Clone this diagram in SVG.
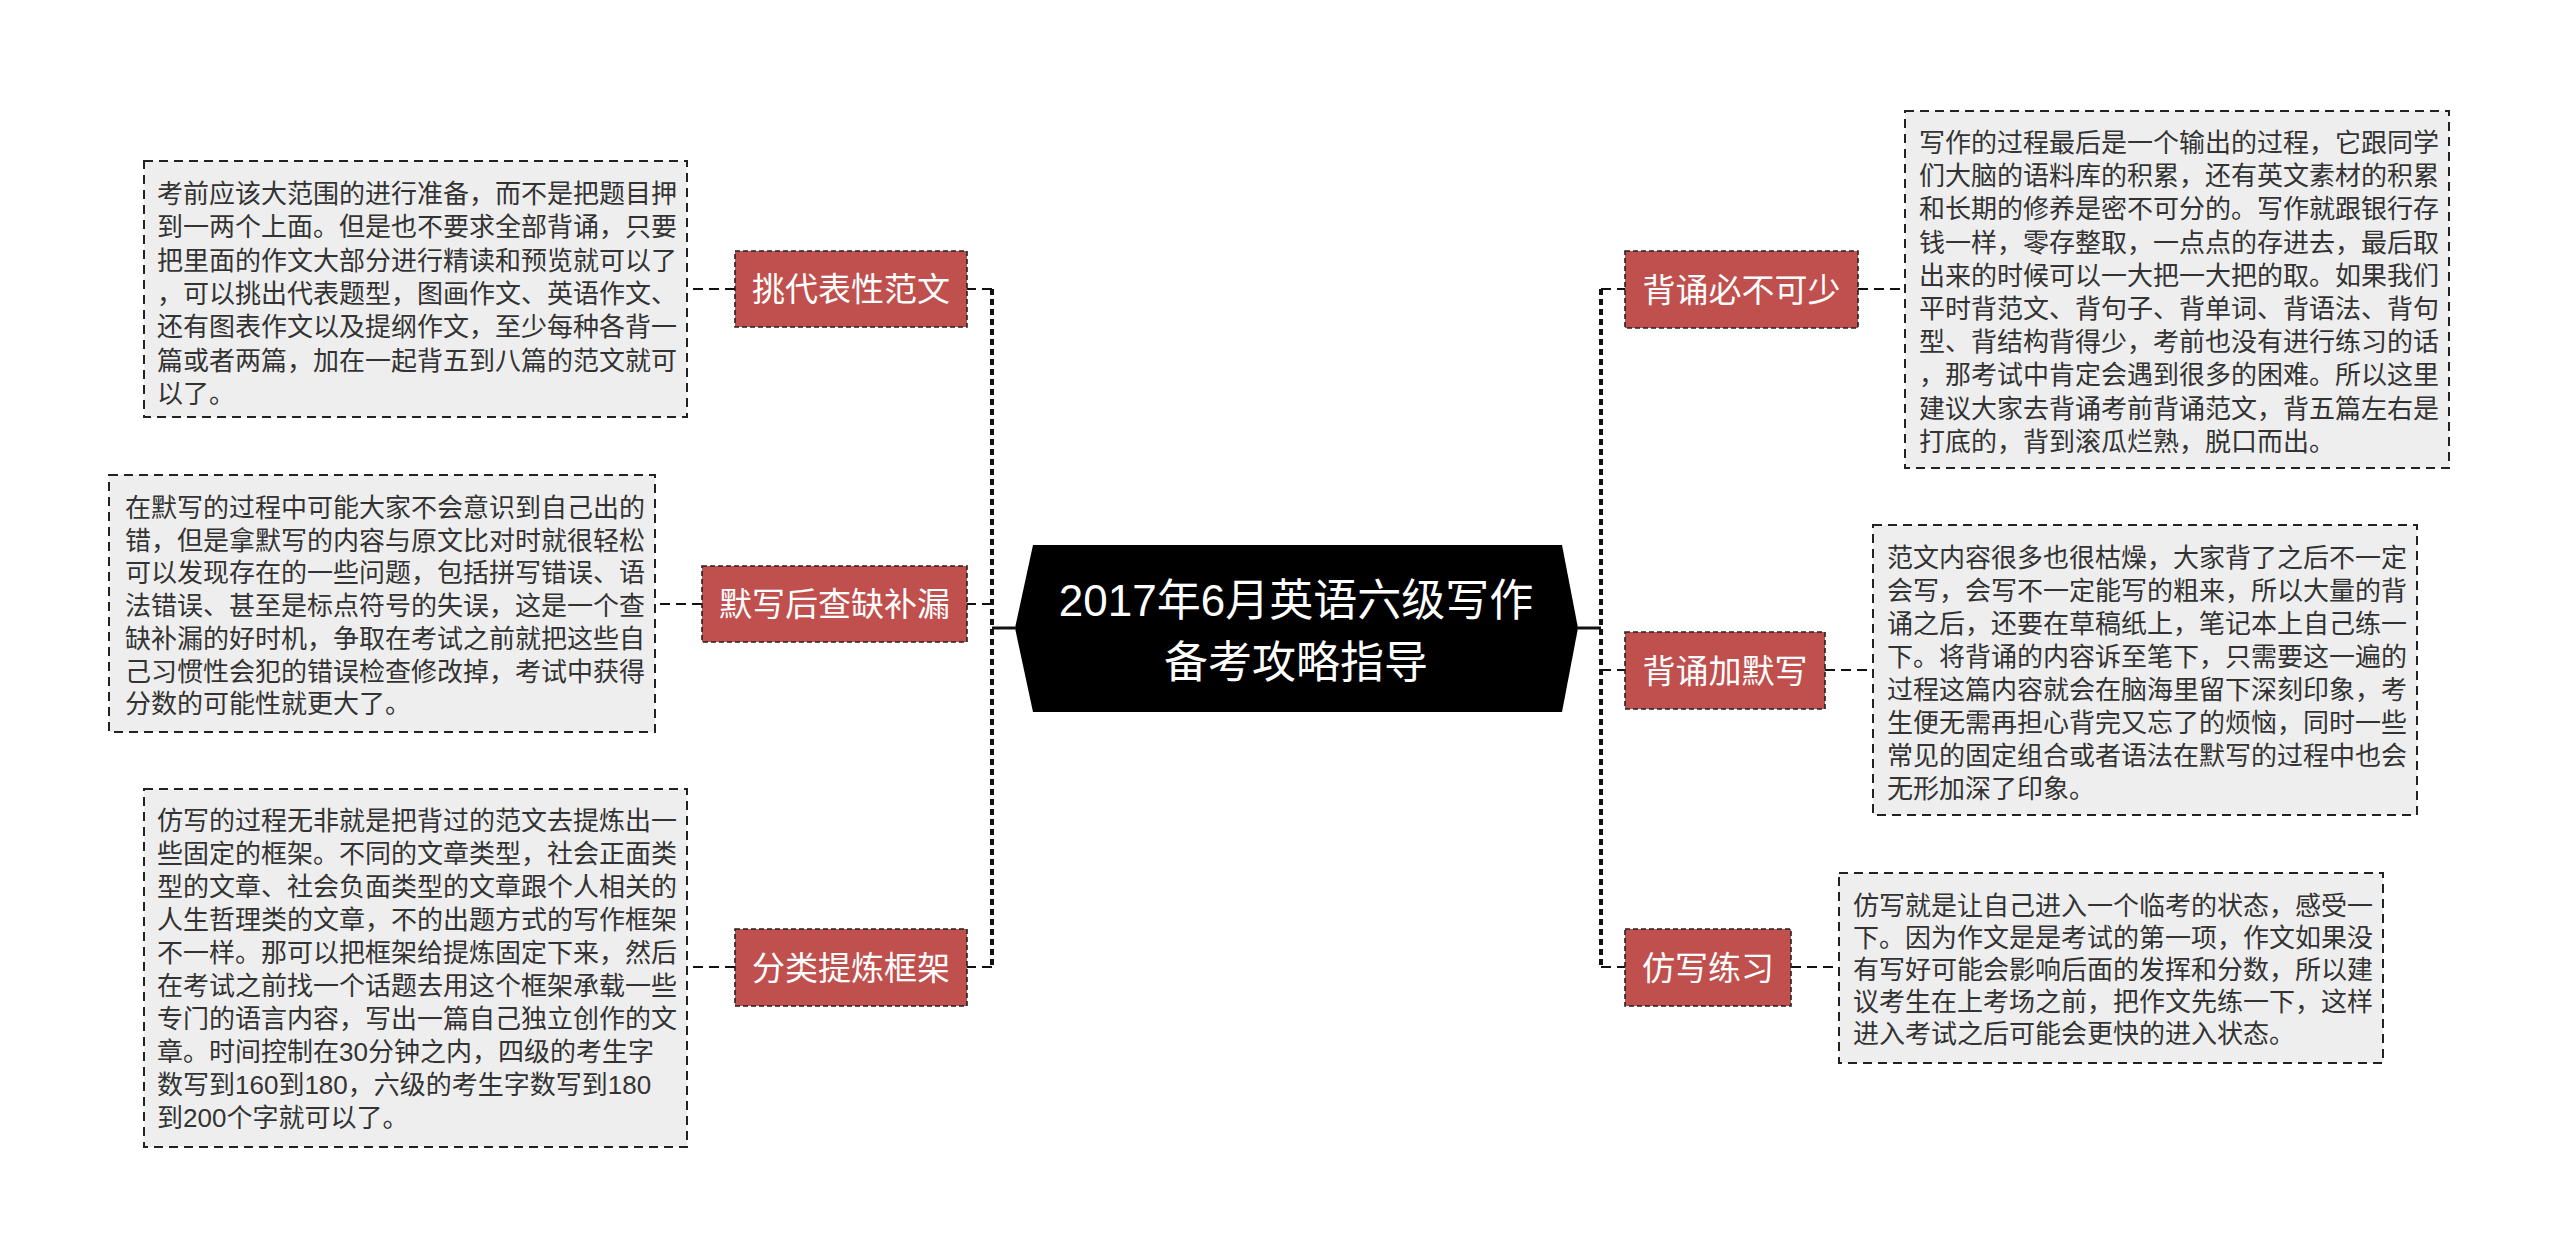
<svg xmlns="http://www.w3.org/2000/svg" width="2560" height="1258" viewBox="0 0 2560 1258">
<style>
.bg{fill:#ffffff}
.topic{fill:#C0504D;stroke:#222;stroke-width:1.6;stroke-dasharray:5,3}
.tlabel{font-family:"Liberation Sans","Noto Sans CJK SC",sans-serif;font-size:33px;fill:#ffffff;text-anchor:middle}
.note{fill:#EEEEEE;stroke:#222;stroke-width:2;stroke-dasharray:9,6}
.ntext{font-family:"Liberation Sans","Noto Sans CJK SC",sans-serif;font-size:26px;fill:#333333}
.ctext{font-family:"Liberation Sans","Noto Sans CJK SC",sans-serif;font-size:44px;fill:#ffffff;text-anchor:middle}
.trunk{fill:none;stroke:#111;stroke-width:4;stroke-dasharray:6,4}
.stub{fill:none;stroke:#111;stroke-width:2;stroke-dasharray:10,6}
.solid{fill:none;stroke:#111;stroke-width:3}
</style>
<rect class="bg" x="0" y="0" width="2560" height="1258"/>

<g id="connectors">
  <line class="solid" x1="992" y1="628" x2="1015" y2="628"/>
  <line class="solid" x1="1578" y1="628" x2="1601" y2="628"/>
  <line class="trunk" x1="992" y1="289" x2="992" y2="967"/>
  <line class="trunk" x1="1601" y1="289" x2="1601" y2="967"/>
  <line class="stub" x1="992" y1="289" x2="967" y2="289"/>
  <line class="stub" x1="992" y1="604" x2="967" y2="604"/>
  <line class="stub" x1="992" y1="967" x2="967" y2="967"/>
  <line class="stub" x1="1601" y1="289" x2="1625" y2="289"/>
  <line class="stub" x1="1601" y1="670" x2="1625" y2="670"/>
  <line class="stub" x1="1601" y1="967" x2="1625" y2="967"/>
  <line class="stub" x1="735" y1="289" x2="687" y2="289"/>
  <line class="stub" x1="702" y1="604" x2="655" y2="604"/>
  <line class="stub" x1="735" y1="967" x2="687" y2="967"/>
  <line class="stub" x1="1858" y1="289" x2="1905" y2="289"/>
  <line class="stub" x1="1825" y1="670" x2="1873" y2="670"/>
  <line class="stub" x1="1791" y1="967" x2="1839" y2="967"/>
</g>

<g id="center">
  <path d="M1033,545 L1562,545 L1578,628 L1562,712 L1033,712 L1015,628 Z" fill="#000000"/>
  <text class="ctext"><tspan x="1296" y="616">2017年6月英语六级写作</tspan><tspan x="1296" y="678">备考攻略指导</tspan></text>
</g>

<g id="topic-l1">
  <rect class="topic" x="735" y="251" width="232" height="76"/>
  <text class="tlabel" x="851" y="301">挑代表性范文</text>
</g>
<g id="topic-l2">
  <rect class="topic" x="702" y="566" width="265" height="76"/>
  <text class="tlabel" x="834.5" y="616">默写后查缺补漏</text>
</g>
<g id="topic-l3">
  <rect class="topic" x="735" y="929" width="232" height="77"/>
  <text class="tlabel" x="851" y="980">分类提炼框架</text>
</g>
<g id="topic-r1">
  <rect class="topic" x="1625" y="251" width="233" height="77"/>
  <text class="tlabel" x="1741.5" y="302">背诵必不可少</text>
</g>
<g id="topic-r2">
  <rect class="topic" x="1625" y="632" width="200" height="77"/>
  <text class="tlabel" x="1725" y="683">背诵加默写</text>
</g>
<g id="topic-r3">
  <rect class="topic" x="1625" y="929" width="166" height="77"/>
  <text class="tlabel" x="1708" y="980">仿写练习</text>
</g>

<g id="note-l1">
  <rect class="note" x="144" y="161" width="543" height="256"/>
  <text class="ntext">
    <tspan x="157" y="203">考前应该大范围的进行准备，而不是把题目押</tspan>
    <tspan x="157" y="236.3">到一两个上面。但是也不要求全部背诵，只要</tspan>
    <tspan x="157" y="269.6">把里面的作文大部分进行精读和预览就可以了</tspan>
    <tspan x="157" y="302.9">，可以挑出代表题型，图画作文、英语作文、</tspan>
    <tspan x="157" y="336.2">还有图表作文以及提纲作文，至少每种各背一</tspan>
    <tspan x="157" y="369.5">篇或者两篇，加在一起背五到八篇的范文就可</tspan>
    <tspan x="157" y="402.8">以了。</tspan>
  </text>
</g>
<g id="note-l2">
  <rect class="note" x="109" y="475" width="546" height="257"/>
  <text class="ntext">
    <tspan x="125" y="517">在默写的过程中可能大家不会意识到自己出的</tspan>
    <tspan x="125" y="549.7">错，但是拿默写的内容与原文比对时就很轻松</tspan>
    <tspan x="125" y="582.4">可以发现存在的一些问题，包括拼写错误、语</tspan>
    <tspan x="125" y="615.1">法错误、甚至是标点符号的失误，这是一个查</tspan>
    <tspan x="125" y="647.8">缺补漏的好时机，争取在考试之前就把这些自</tspan>
    <tspan x="125" y="680.5">己习惯性会犯的错误检查修改掉，考试中获得</tspan>
    <tspan x="125" y="713.2">分数的可能性就更大了。</tspan>
  </text>
</g>
<g id="note-l3">
  <rect class="note" x="144" y="789" width="543" height="358"/>
  <text class="ntext">
    <tspan x="157" y="830">仿写的过程无非就是把背过的范文去提炼出一</tspan>
    <tspan x="157" y="863">些固定的框架。不同的文章类型，社会正面类</tspan>
    <tspan x="157" y="896">型的文章、社会负面类型的文章跟个人相关的</tspan>
    <tspan x="157" y="929">人生哲理类的文章，不的出题方式的写作框架</tspan>
    <tspan x="157" y="962">不一样。那可以把框架给提炼固定下来，然后</tspan>
    <tspan x="157" y="995">在考试之前找一个话题去用这个框架承载一些</tspan>
    <tspan x="157" y="1028">专门的语言内容，写出一篇自己独立创作的文</tspan>
    <tspan x="157" y="1061">章。时间控制在30分钟之内，四级的考生字</tspan>
    <tspan x="157" y="1094">数写到160到180，六级的考生字数写到180</tspan>
    <tspan x="157" y="1127">到200个字就可以了。</tspan>
  </text>
</g>
<g id="note-r1">
  <rect class="note" x="1905" y="111" width="544" height="357"/>
  <text class="ntext">
    <tspan x="1919" y="152">写作的过程最后是一个输出的过程，它跟同学</tspan>
    <tspan x="1919" y="185.2">们大脑的语料库的积累，还有英文素材的积累</tspan>
    <tspan x="1919" y="218.4">和长期的修养是密不可分的。写作就跟银行存</tspan>
    <tspan x="1919" y="251.6">钱一样，零存整取，一点点的存进去，最后取</tspan>
    <tspan x="1919" y="284.8">出来的时候可以一大把一大把的取。如果我们</tspan>
    <tspan x="1919" y="318">平时背范文、背句子、背单词、背语法、背句</tspan>
    <tspan x="1919" y="351.2">型、背结构背得少，考前也没有进行练习的话</tspan>
    <tspan x="1919" y="384.4">，那考试中肯定会遇到很多的困难。所以这里</tspan>
    <tspan x="1919" y="417.6">建议大家去背诵考前背诵范文，背五篇左右是</tspan>
    <tspan x="1919" y="450.8">打底的，背到滚瓜烂熟，脱口而出。</tspan>
  </text>
</g>
<g id="note-r2">
  <rect class="note" x="1873" y="525" width="544" height="290"/>
  <text class="ntext">
    <tspan x="1887" y="567">范文内容很多也很枯燥，大家背了之后不一定</tspan>
    <tspan x="1887" y="600">会写，会写不一定能写的粗来，所以大量的背</tspan>
    <tspan x="1887" y="633">诵之后，还要在草稿纸上，笔记本上自己练一</tspan>
    <tspan x="1887" y="666">下。将背诵的内容诉至笔下，只需要这一遍的</tspan>
    <tspan x="1887" y="699">过程这篇内容就会在脑海里留下深刻印象，考</tspan>
    <tspan x="1887" y="732">生便无需再担心背完又忘了的烦恼，同时一些</tspan>
    <tspan x="1887" y="765">常见的固定组合或者语法在默写的过程中也会</tspan>
    <tspan x="1887" y="798">无形加深了印象。</tspan>
  </text>
</g>
<g id="note-r3">
  <rect class="note" x="1839" y="873" width="544" height="190"/>
  <text class="ntext">
    <tspan x="1853" y="915">仿写就是让自己进入一个临考的状态，感受一</tspan>
    <tspan x="1853" y="947">下。因为作文是是考试的第一项，作文如果没</tspan>
    <tspan x="1853" y="979">有写好可能会影响后面的发挥和分数，所以建</tspan>
    <tspan x="1853" y="1011">议考生在上考场之前，把作文先练一下，这样</tspan>
    <tspan x="1853" y="1043">进入考试之后可能会更快的进入状态。</tspan>
  </text>
</g>
</svg>
